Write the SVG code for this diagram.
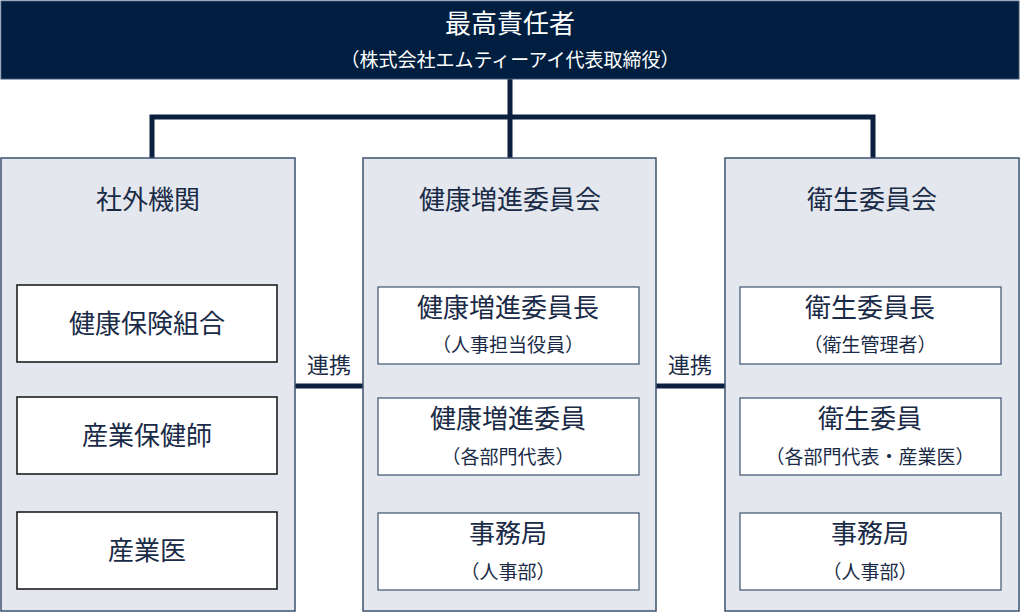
<svg xmlns="http://www.w3.org/2000/svg" width="1020" height="615" viewBox="0 0 1020 615">
<style>
text{font-family:"Noto Sans CJK JP","Noto Sans",sans-serif;fill:#1a2b47;text-anchor:middle}
.col{fill:#e4e8ee;stroke:#3d5270;stroke-width:1.5}
.box{fill:#fff;stroke:#3d5270;stroke-width:1.2}
.boxk{fill:#fff;stroke:#111;stroke-width:1.5}
.t{font-size:26px}.m{font-size:26px}.s{font-size:19px}
.ln{stroke:#0b1f3f;stroke-width:5;fill:none}
</style>
<rect width="1020" height="615" fill="#fff"/>
<g id="connectors">
<path class="ln" d="M510 79V158M152 158V117H873V158M295 386H363M656 386H725"/>
</g>
<g id="top">
<rect x="1" y="1" width="1018" height="78" fill="#001f40" stroke="#3d5270"/>
<text x="510" y="33" class="t" style="fill:#fff">最高責任者</text>
<text x="510" y="67" class="s" style="fill:#fff">（株式会社エムティーアイ代表取締役）</text>
</g>
<g id="col-left">
<rect class="col" x="1" y="158" width="294" height="453"/>
<text x="148" y="209" class="t">社外機関</text>
</g>
<g id="col-center">
<rect class="col" x="363" y="158" width="293" height="453"/>
<text x="510" y="209" class="t">健康増進委員会</text>
</g>
<g id="col-right">
<rect class="col" x="725" y="158" width="294" height="453"/>
<text x="872" y="209" class="t">衛生委員会</text>
</g>
<g id="l1"><rect class="boxk" x="17" y="285" width="260" height="77"/><text x="147" y="333" class="m">健康保険組合</text></g>
<g id="l2"><rect class="boxk" x="17" y="397" width="260" height="77"/><text x="147" y="445" class="m">産業保健師</text></g>
<g id="l3"><rect class="boxk" x="17" y="512" width="260" height="77"/><text x="147" y="560" class="m">産業医</text></g>
<g id="c1"><rect class="box" x="378" y="287" width="261" height="77"/><text x="508" y="317" class="m">健康増進委員長</text><text x="508" y="352" class="s">（人事担当役員）</text></g>
<g id="c2"><rect class="box" x="378" y="398" width="261" height="77"/><text x="508" y="428" class="m">健康増進委員</text><text x="508" y="464" class="s">（各部門代表）</text></g>
<g id="c3"><rect class="box" x="378" y="513" width="261" height="77"/><text x="508" y="543" class="m">事務局</text><text x="508" y="579" class="s">（人事部）</text></g>
<g id="r1"><rect class="box" x="740" y="287" width="261" height="77"/><text x="870" y="317" class="m">衛生委員長</text><text x="870" y="352" class="s">（衛生管理者）</text></g>
<g id="r2"><rect class="box" x="740" y="398" width="261" height="77"/><text x="870" y="428" class="m">衛生委員</text><text x="870" y="464" class="s">（各部門代表・産業医）</text></g>
<g id="r3"><rect class="box" x="740" y="513" width="261" height="77"/><text x="870" y="543" class="m">事務局</text><text x="870" y="579" class="s">（人事部）</text></g>
<g id="labels">
<text x="329" y="373" style="font-size:22px">連携</text>
<text x="690" y="373" style="font-size:22px">連携</text>
</g>
</svg>
